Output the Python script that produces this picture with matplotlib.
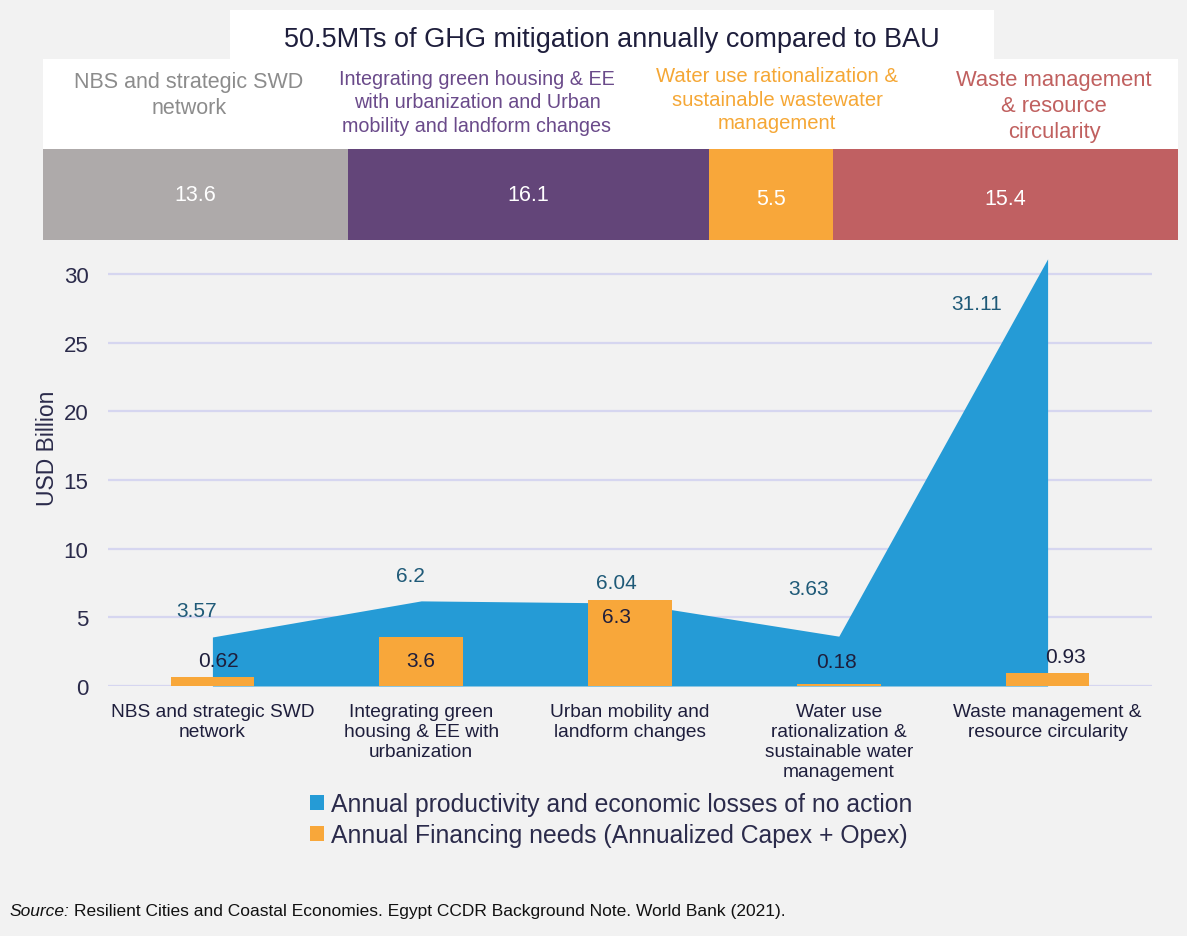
import matplotlib
matplotlib.use('Agg')
import matplotlib.pyplot as plt
from matplotlib.patches import Rectangle, Patch
import numpy as np

plt.rcParams['font.family'] = ['Liberation Sans', 'DejaVu Sans']

# Data
categories = ['NBS and strategic SWD\nnetwork',
              'Integrating green\nhousing & EE with\nurbanization',
              'Urban mobility and\nlandform changes',
              'Water use\nrationalization &\nsustainable water\nmanagement',
              'Waste management &\nresource circularity']
losses = [3.57, 6.2, 6.04, 3.63, 31.11]
financing = [0.62, 3.6, 6.3, 0.18, 0.93]

ghg_groups = ['NBS and strategic SWD\nnetwork',
              'Integrating green housing & EE\nwith urbanization and Urban\nmobility and landform changes',
              'Water use rationalization &\nsustainable wastewater\nmanagement',
              'Waste management\n& resource\ncircularity']
ghg_values = [13.6, 16.1, 5.5, 15.4]

title = '50.5MTs of GHG mitigation annually compared to BAU'
legend_labels = ['Annual productivity and economic losses of no action',
                 'Annual Financing needs (Annualized Capex + Opex)']

# Styles
BG = '#f2f2f2'
BLUE = '#259bd6'
ORANGE = '#f8a73a'
NAVY = '#1e1e3c'
TEAL = '#1f5a78'
ghg_colors = ['#aeaaaa', '#634579', '#f8a73a', '#c06062']
ghg_text_colors = ['#8c8c8c', '#6a4a8a', '#f5a735', '#c0605f']
ghg_label_x = [189, 477, 777, 1054]          # pixel centres of the group labels
ghg_label_top = [72, 70, 67, 70]
ghg_label_size = [15.5, 14.2, 14.6, 15.8]
blue_offsets = [(-11.5, 19), (-8, 18), (-10, 15), (-22, 34), (-51, -32)]
orange_offsets = [(4, 12), (0, -17), (-10, -12), (-1.5, 16), (13, 12)]

W, H = 1187, 937
fig = plt.figure(figsize=(W / 100, H / 100), dpi=100, facecolor=BG)


def fx(x):
    return x / W


def fy(y):
    return 1 - y / H


# Top white boxes
fig.patches.append(Rectangle((fx(230), fy(62)), (994 - 230) / W, 51 / H,
                             transform=fig.transFigure, facecolor='white', edgecolor='none'))
fig.patches.append(Rectangle((fx(43), fy(150)), (1178 - 43) / W, 90 / H,
                             transform=fig.transFigure, facecolor='white', edgecolor='none'))
fig.text(fx(612), fy(40), title, ha='center', va='center', fontsize=19.5, color=NAVY)

# Stacked GHG bar
axb = fig.add_axes([fx(43), fy(241), (1178 - 43) / W, 91 / H])
left = 0
for i, (val, col) in enumerate(zip(ghg_values, ghg_colors)):
    axb.barh(0, val, left=left, height=1, color=col, edgecolor='none')
    axb.text(left + val / 2, 0.0 if i < 2 else -0.04, f'{val}', ha='center', va='center',
             color='white', fontsize=15.5)
    left += val
axb.set_xlim(0, sum(ghg_values))
axb.set_ylim(-0.5, 0.5)
axb.axis('off')

# Group labels above the stacked bar
for lab, cx, top, size, col in zip(ghg_groups, ghg_label_x, ghg_label_top,
                                   ghg_label_size, ghg_text_colors):
    fig.text(fx(cx), fy(top), lab, ha='center', va='top', fontsize=size,
             color=col, linespacing=1.3)

# Main chart
ax = fig.add_axes([fx(108), fy(687), (1152 - 108) / W, (687 - 254.5) / H])
ax.set_facecolor(BG)
x = np.arange(len(categories))
ax.fill_between(x, losses, color=BLUE, linewidth=0, zorder=2, clip_on=False)
ax.bar(x, financing, width=0.4, color=ORANGE, zorder=3)

for xi, v, off in zip(x, losses, blue_offsets):
    ax.annotate(f'{v:g}', (xi, v), xytext=off, textcoords='offset points',
                ha='center', va='center', fontsize=15, color=TEAL, zorder=4)
for xi, v, off in zip(x, financing, orange_offsets):
    ax.annotate(f'{v:g}', (xi, v), xytext=off, textcoords='offset points',
                ha='center', va='center', fontsize=15, color=NAVY, zorder=4)

ax.set_xlim(-0.5, 4.5)
ax.set_ylim(0, 31.5)
ax.set_yticks(range(0, 31, 5))
ax.yaxis.grid(True, color='#d6d6f0', linewidth=1.6, zorder=0)
ax.set_axisbelow(True)
ax.set_xticks(x)
ax.set_xticklabels(categories, fontsize=13.8, color=NAVY, linespacing=1.25)
ax.tick_params(axis='x', length=0, pad=12)
ax.tick_params(axis='y', length=0, pad=14, labelsize=16, labelcolor='#2b2b4b')
for s in ax.spines.values():
    s.set_visible(False)

fig.text(fx(47), fy(448), 'USD Billion', rotation=90, ha='center', va='center',
         fontsize=16.5, color='#2b2b4b')

# Legend
handles = [Patch(facecolor=BLUE), Patch(facecolor=ORANGE)]
fig.legend(handles, legend_labels, loc='upper left',
           bbox_to_anchor=(fx(310), fy(793)), frameon=False, fontsize=17.8,
           handlelength=0.55, handleheight=0.55, handletextpad=0.3,
           labelspacing=0.3, borderpad=0, borderaxespad=0,
           labelcolor='#2b2b4b')

# Source note
src = fig.text(fx(10), fy(912), 'Source:', ha='left', va='center', fontsize=12.5,
               style='italic', color='#111111')
r = fig.canvas.get_renderer()
bb = src.get_window_extent(renderer=r)
fig.text((bb.x1 + 4) / W, fy(912),
         'Resilient Cities and Coastal Economies. Egypt CCDR Background Note. World Bank (2021).',
         ha='left', va='center', fontsize=12.5, color='#111111')

fig.savefig('out.png', dpi=100, facecolor=BG)
